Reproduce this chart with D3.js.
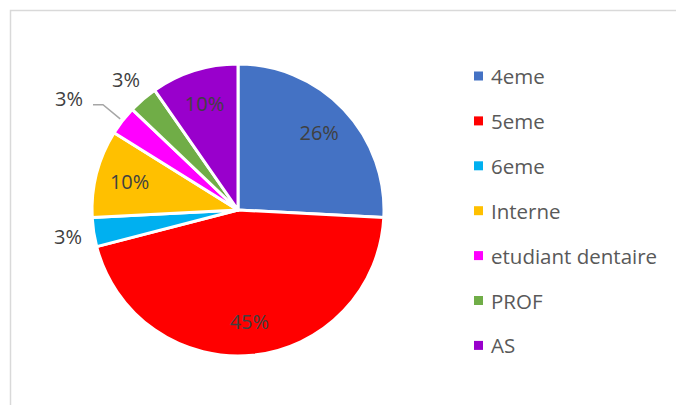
<!DOCTYPE html>
<html>
<head>
<meta charset="utf-8">
<script src="https://cdn.jsdelivr.net/npm/d3@7"></script>
<style>
  body { margin: 0; background: #fff; }
  svg text { font-family: "Open Sans", "Liberation Sans", sans-serif; }
</style>
</head>
<body>
<svg id="chart" width="676" height="405"></svg>
<script>
// data (counts out of 31)
var categories = ["4eme", "5eme", "6eme", "Interne", "etudiant dentaire", "PROF", "AS"];
var counts = [8, 14, 1, 3, 1, 1, 3];
var colors = ["#4472C4", "#FF0000", "#00B0F0", "#FFC000", "#FF00FF", "#70AD47", "#9900CC"];

var svg = d3.select("#chart"),
  width = +svg.attr("width"),
  height = +svg.attr("height");

// frame
svg.append("rect")
  .attr("x", 10.5).attr("y", 10.5)
  .attr("width", width).attr("height", height)
  .attr("fill", "none")
  .attr("stroke", "#d9d9d9")
  .attr("stroke-width", 1.5);

var cx = 238, cy = 210, radius = 146;
var total = d3.sum(counts);

var pie = d3.pie().sort(null).value(function (d) { return d; });
var arcs = pie(counts);

var arc = d3.arc().innerRadius(0).outerRadius(radius);
var g = svg.append("g").attr("transform", "translate(" + cx + "," + cy + ")");

g.selectAll("path")
  .data(arcs)
  .enter().append("path")
  .attr("d", arc)
  .attr("fill", function (d, i) { return colors[i]; })
  .attr("stroke", "#fff")
  .attr("stroke-width", 3)
  .attr("stroke-linejoin", "round");

// labels: big slices inside, small ones outside
var inner = d3.arc().innerRadius(112).outerRadius(112);
var outer = d3.arc().innerRadius(172).outerRadius(172);

function pct(d) { return Math.round(d.value / total * 100) + "%"; }

arcs.forEach(function (d, i) {
  var small = d.value / total < 0.05;
  var p = (small ? outer : inner).centroid(d);
  if (categories[i] === "etudiant dentaire") {
    // label pushed out to the left, with a leader line
    var tip = d3.arc().innerRadius(radius + 3).outerRadius(radius + 3).centroid(d);
    var lx = p[0] - 33, ly = p[1] - 6;
    g.append("polyline")
      .attr("points", [[lx + 24, ly + 6], [lx + 34, ly + 6], tip].join(" "))
      .attr("fill", "none")
      .attr("stroke", "#a6a6a6")
      .attr("stroke-width", 1.5);
    p = [lx, ly];
  }
  g.append("text")
    .attr("x", p[0]).attr("y", p[1])
    .attr("text-anchor", "middle")
    .attr("dominant-baseline", "central")
    .attr("font-size", 20)
    .attr("fill", "#404040")
    .text(pct(d));
});

// legend
var legend = svg.append("g").attr("transform", "translate(474,76)");
var item = legend.selectAll("g")
  .data(categories)
  .enter().append("g")
  .attr("transform", function (d, i) { return "translate(0," + (i * 44.9) + ")"; });

item.append("rect")
  .attr("x", 0).attr("y", -4.5)
  .attr("width", 9).attr("height", 9)
  .attr("fill", function (d, i) { return colors[i]; });

item.append("text")
  .attr("x", 17).attr("y", 0)
  .attr("dominant-baseline", "central")
  .attr("font-size", 20.5)
  .attr("fill", "#595959")
  .text(function (d) { return d; });
</script>
</body>
</html>
